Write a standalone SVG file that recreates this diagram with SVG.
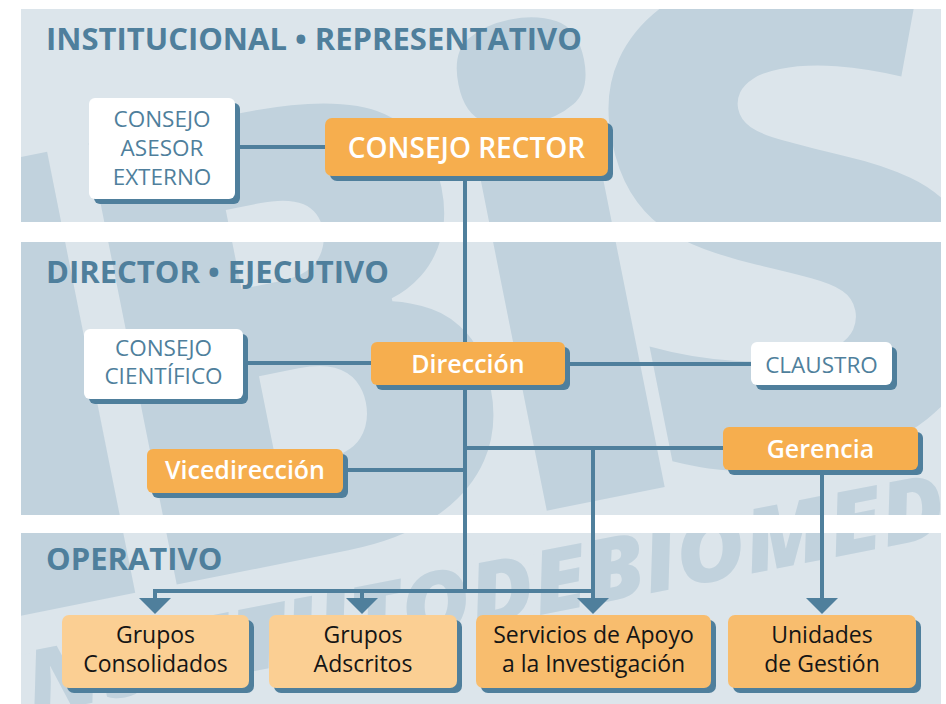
<svg xmlns="http://www.w3.org/2000/svg" width="946" height="704" viewBox="0 0 946 704">
<defs>
<style>
.panel{fill:#dce5eb}
.wm{fill:#c1d2dd;font-family:"Open Sans","DejaVu Sans",sans-serif;font-weight:800;text-anchor:middle}
.wb{fill:#c1d2dd;font-family:"Open Sans","DejaVu Sans",sans-serif;font-weight:800;font-style:italic;text-anchor:start}
.title{fill:#4f7f9c;font-family:"Open Sans","DejaVu Sans",sans-serif;font-weight:700;font-size:31px}
.sh{fill:#4f7f9c}
.wbox{fill:#ffffff}
.obox{fill:#f6ae4e}
.lbox{fill:#fbcf93}
.dbox{fill:#f8bd6e}
.tb{fill:#4f7f9c;font-family:"Open Sans","DejaVu Sans",sans-serif;font-size:22.5px;text-anchor:middle}
.tw{fill:#ffffff;font-family:"Open Sans","DejaVu Sans",sans-serif;font-weight:600;text-anchor:middle}
.tk{fill:#151515;font-family:"Open Sans","DejaVu Sans",sans-serif;font-size:23px;text-anchor:middle}
.ln{stroke:#4f7f9c;stroke-width:4;fill:none}
.ah{fill:#4f7f9c}
</style>
<clipPath id="pc">
<rect x="21" y="9" width="920" height="213"/>
<rect x="21" y="242" width="920" height="273"/>
<rect x="21" y="533" width="920" height="171"/>
</clipPath>
</defs>
<rect width="946" height="704" fill="#ffffff"/>
<g id="background" clip-path="url(#pc)" aria-hidden="true">
<rect class="panel" x="21" y="9" width="920" height="213"/>
<rect class="panel" x="21" y="242" width="920" height="273"/>
<rect class="panel" x="21" y="533" width="920" height="171"/>
<g transform="translate(600 500) rotate(-11.3)" font-size="630">
<text class="wm" x="-535" y="0">I</text>
<text class="wm" x="-268" y="0">B</text>
<text class="wm" x="6" y="0">i</text>
<text class="wm" x="245" y="0" font-size="680">S</text>
</g>
<polygon points="21,655 941,474 941,704 21,704" fill="#dce5eb"/>
<text class="wb" x="0" y="721" font-size="88" textLength="1232" lengthAdjust="spacingAndGlyphs" transform="rotate(-11.1 0 721)">INSTITUTODEBIOMEDICINA</text>
</g>
<g id="titles">
<text class="title" x="46" y="50">INSTITUCIONAL • REPRESENTATIVO</text>
<text class="title" x="46" y="283">DIRECTOR • EJECUTIVO</text>
<text class="title" x="46" y="570">OPERATIVO</text>
</g>
<g id="connectors">
<line class="ln" x1="235" y1="147" x2="325" y2="147"/>
<line class="ln" x1="465" y1="176" x2="465" y2="591"/>
<line class="ln" x1="243" y1="363" x2="371" y2="363"/>
<line class="ln" x1="565" y1="364" x2="751" y2="364"/>
<line class="ln" x1="343" y1="470" x2="465" y2="470"/>
<line class="ln" x1="465" y1="448" x2="723" y2="448"/>
<line class="ln" x1="593" y1="448" x2="593" y2="600"/>
<line class="ln" x1="822" y1="470" x2="822" y2="600"/>
<polyline class="ln" points="155,600 155,591 595,591"/>
<line class="ln" x1="362" y1="591" x2="362" y2="600"/>
<polygon class="ah" points="139,598 171,598 155,614"/>
<polygon class="ah" points="346,598 378,598 362,614"/>
<polygon class="ah" points="577,598 609,598 593,614"/>
<polygon class="ah" points="806,598 838,598 822,614"/>
</g>
<g id="node-asesor">
<rect class="sh" x="94" y="103" width="146" height="101" rx="6"/>
<rect class="wbox" x="89" y="98" width="146" height="101" rx="6"/>
<text class="tb" x="162" y="127">CONSEJO</text>
<text class="tb" x="162" y="156">ASESOR</text>
<text class="tb" x="162" y="185">EXTERNO</text>
</g>
<g id="node-rector">
<rect class="sh" x="330" y="123" width="283" height="58" rx="7"/>
<rect class="obox" x="325" y="118" width="283" height="58" rx="7"/>
<text class="tw" x="466.5" y="158" font-size="28">CONSEJO RECTOR</text>
</g>
<g id="node-cientifico">
<rect class="sh" x="89" y="334" width="159" height="70" rx="6"/>
<rect class="wbox" x="84" y="329" width="159" height="70" rx="6"/>
<text class="tb" x="163.5" y="356">CONSEJO</text>
<text class="tb" x="163.5" y="384">CIENTÍFICO</text>
</g>
<g id="node-direccion">
<rect class="sh" x="376" y="347" width="194" height="43" rx="6"/>
<rect class="obox" x="371" y="342" width="194" height="43" rx="6"/>
<text class="tw" x="468" y="373" font-size="25">Dirección</text>
</g>
<g id="node-claustro">
<rect class="sh" x="756" y="347" width="141" height="43" rx="6"/>
<rect class="wbox" x="751" y="342" width="141" height="43" rx="6"/>
<text class="tb" x="821.5" y="373">CLAUSTRO</text>
</g>
<g id="node-vicedireccion">
<rect class="sh" x="152" y="454" width="196" height="44" rx="6"/>
<rect class="obox" x="147" y="449" width="196" height="44" rx="6"/>
<text class="tw" x="245" y="479" font-size="25">Vicedirección</text>
</g>
<g id="node-gerencia">
<rect class="sh" x="728" y="432" width="195" height="43" rx="6"/>
<rect class="obox" x="723" y="427" width="195" height="43" rx="6"/>
<text class="tw" x="820.5" y="458" font-size="25">Gerencia</text>
</g>
<g id="node-consolidados">
<rect class="sh" x="67" y="620" width="187" height="73" rx="7"/>
<rect class="lbox" x="62" y="615" width="187" height="73" rx="7"/>
<text class="tk" x="155.5" y="643">Grupos</text>
<text class="tk" x="155.5" y="672">Consolidados</text>
</g>
<g id="node-adscritos">
<rect class="sh" x="274" y="620" width="188" height="73" rx="7"/>
<rect class="lbox" x="269" y="615" width="188" height="73" rx="7"/>
<text class="tk" x="363" y="643">Grupos</text>
<text class="tk" x="363" y="672">Adscritos</text>
</g>
<g id="node-servicios">
<rect class="sh" x="481" y="620" width="235" height="73" rx="7"/>
<rect class="dbox" x="476" y="615" width="235" height="73" rx="7"/>
<text class="tk" x="593.5" y="643">Servicios de Apoyo</text>
<text class="tk" x="593.5" y="672">a la Investigación</text>
</g>
<g id="node-unidades">
<rect class="sh" x="733" y="620" width="188" height="73" rx="7"/>
<rect class="dbox" x="728" y="615" width="188" height="73" rx="7"/>
<text class="tk" x="822" y="643">Unidades</text>
<text class="tk" x="822" y="672">de Gestión</text>
</g>
</svg>
